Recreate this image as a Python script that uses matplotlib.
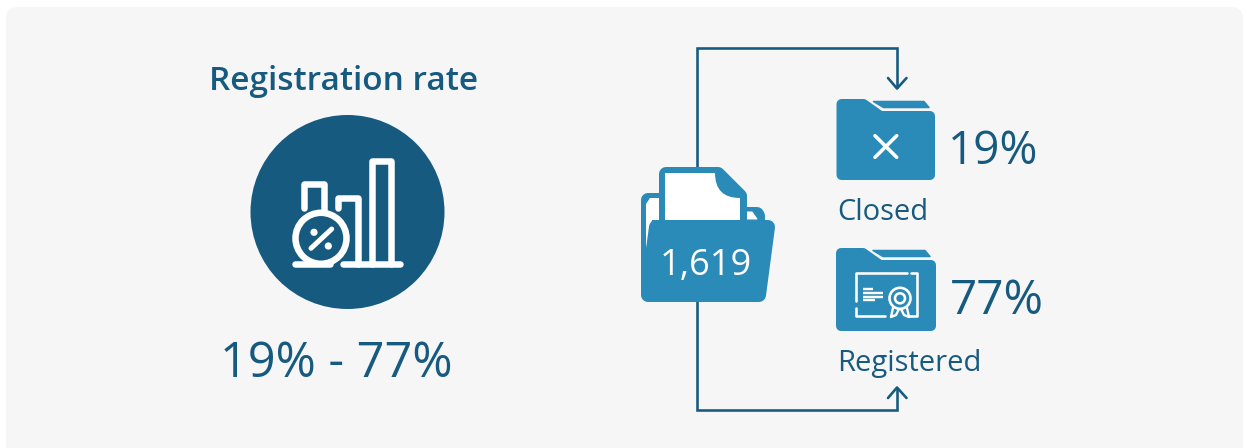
import matplotlib
matplotlib.use("Agg")
import matplotlib.pyplot as plt
from matplotlib.patches import Circle, FancyBboxPatch, PathPatch, Polygon
from matplotlib.path import Path

plt.rcParams["font.family"] = ["Open Sans", "DejaVu Sans"]

# data
chart_title = "Registration rate"
total_files = 1619
outcome_labels = ["Closed", "Registered"]
outcome_shares = [19, 77]

DARK = "#175a80"
BLUE = "#2a8ab8"
CARD = "#f6f6f6"
WHITE = "#ffffff"
PX = 0.72  # one pixel in points at dpi 100

fig = plt.figure(figsize=(12.51, 4.48), dpi=100)
ax = fig.add_axes([0, 0, 1, 1])
ax.set_xlim(0, 1251)
ax.set_ylim(448, 0)
ax.axis("off")


def line(xs, ys, color=WHITE, width=6.5, cap="round", join="round", z=5):
    ax.plot(xs, ys, color=color, lw=width * PX, solid_capstyle=cap,
            solid_joinstyle=join, zorder=z)


def shape(points, color, z=3, edge=0):
    # polygon with softened corners, edge is the rounding stroke in pixels
    ax.add_patch(Polygon(points, closed=True, facecolor=color, edgecolor=color,
                         lw=edge * PX, joinstyle="round", zorder=z))


def label(x, y, text, size, color=DARK, ha="left", weight="normal"):
    ax.text(x, y, text, fontsize=size, color=color, ha=ha, va="center",
            fontweight=weight, zorder=8)


# card
ax.add_patch(FancyBboxPatch((18, 19), 1213, 440, boxstyle="round,pad=12,rounding_size=12",
                            facecolor=CARD, edgecolor="none", zorder=0))

# left panel
label(344, 82, chart_title, 24, ha="center", weight="semibold")
ax.add_patch(Circle((347.5, 212), 97, facecolor=DARK, edgecolor="none", zorder=2))
line([304, 304, 324.3, 324.3], [208, 183.7, 183.7, 210])
line([337.7, 337.7, 358.3, 358.3], [208, 197.7, 197.7, 264])
line([371.7, 371.7, 391, 391], [264, 161, 161, 264])
line([295, 330], [264, 264])
line([343.3, 400], [264, 264])
ax.add_patch(Circle((321, 238.3), 25.5, facecolor="none", edgecolor=WHITE, lw=6.5 * PX, zorder=5))
line([311, 331.7], [248.3, 229], width=5)
ax.add_patch(Circle((314, 232.3), 3.6, facecolor=WHITE, edgecolor="none", zorder=5))
ax.add_patch(Circle((328.3, 246), 3.6, facecolor=WHITE, edgecolor="none", zorder=5))
label(336, 364, f"{min(outcome_shares)}% - {max(outcome_shares)}%", 35, ha="center")

# connector lines and arrow heads
line([697, 697, 897, 897], [170, 48, 48, 88], color=DARK, width=2.6, cap="butt", join="miter", z=1)
line([697, 697, 897, 897], [300, 410, 410, 388], color=DARK, width=2.6, cap="butt", join="miter", z=1)
line([888, 897, 906.5], [78, 88.5, 78], color=DARK, width=2.6, z=1)
line([888, 897, 906.5], [398, 387.5, 398], color=DARK, width=2.6, z=1)

# big folder, back sheet, document, front flap
shape([(648, 200), (670, 200), (670, 214), (750, 214), (757, 214), (758, 216),
       (758, 290), (648, 290)], BLUE, z=2, edge=14)
shape([(646, 250), (646, 204), (650, 198), (664, 198), (664, 220), (652, 220)], WHITE, z=3)
shape([(745, 212), (752, 212), (757, 219), (745, 219)], WHITE, z=3, edge=1)
shape([(666, 174), (718, 174), (740, 196), (740, 222), (666, 222)], BLUE, z=4, edge=14)
doc = Path([(665, 173), (715, 173), (715, 198), (740, 198), (740, 220), (665, 220), (665, 173)],
           [Path.MOVETO, Path.LINETO, Path.CURVE3, Path.CURVE3, Path.LINETO, Path.LINETO, Path.CLOSEPOLY])
ax.add_patch(PathPatch(doc, facecolor=WHITE, edgecolor="none", zorder=5))
shape([(656, 227), (768, 227), (759, 295), (648, 295), (648, 286)], BLUE, z=6, edge=14)
label(706, 266, f"{total_files:,}", 26, color=WHITE, ha="center")


def small_folder(x0, x1, top, bottom):
    shape([(x0 + 5, top + 5), (x0 + 27, top + 5), (x0 + 44, top + 17), (x1 - 5, top + 17),
           (x1 - 5, bottom - 5), (x0 + 5, bottom - 5)], BLUE, edge=10)
    shape([(x0 + 37, top + 2.5), (x1 - 11, top + 2.5), (x1 - 6, top + 8.5), (x0 + 47, top + 8.5)],
          BLUE, edge=1.5)


# closed folder
small_folder(836.5, 935, 99, 180)
line([875, 896.7], [135.7, 157.3], width=3.6)
line([875, 896.7], [157.3, 135.7], width=3.6)
label(948, 152, f"{outcome_shares[0]}%", 33)
label(837, 212, outcome_labels[0], 21)

# registered folder with certificate
small_folder(836, 936, 248, 331)
line([907, 855.7, 855.7], [273.3, 273.3, 301.5], width=2.6)
line([911, 917.3, 917.3, 908], [273.3, 273.3, 316, 316], width=2.6)
line([855.7, 855.7, 885], [308, 316, 316], width=2.6)
line([863.3, 873], [289, 289], width=2.4, cap="butt")
line([863.3, 883], [292.8, 292.8], width=2.4, cap="butt")
line([863.3, 883], [296.6, 296.6], width=2.4, cap="butt")
line([863.3, 875], [300.4, 300.4], width=2.4, cap="butt")
ax.add_patch(Circle((900, 298.3), 10.5, facecolor=BLUE, edgecolor=WHITE, lw=2.6 * PX, zorder=5))
ax.add_patch(Circle((900, 298.3), 5, facecolor=BLUE, edgecolor=WHITE, lw=2.6 * PX, zorder=6))
line([893, 891, 896, 899], [308, 317, 315, 309], width=2.4)
line([907, 909, 904, 901], [308, 317, 315, 309], width=2.4)
label(950, 301, f"{outcome_shares[1]}%", 34.5)
label(837, 363, outcome_labels[1], 21)

fig.savefig("out.png", dpi=100, facecolor="white")
